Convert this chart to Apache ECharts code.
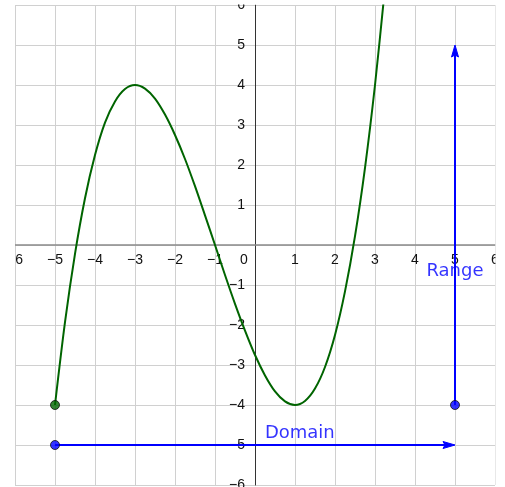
<!DOCTYPE html>
<html>
<head>
<meta charset="utf-8" />
<script src="https://cdn.jsdelivr.net/npm/echarts@6/dist/echarts.min.js"></script>
<style>
  html, body { margin: 0; padding: 0; background: #fff; }
  #chart { width: 505px; height: 487px; }
</style>
</head>
<body>
<div id="chart"></div>
<script>
// curve values
const curveX = [-5, -4.75, -4.5, -4.25, -4, -3.75, -3.5, -3.25, -3, -2.75, -2.5, -2.25, -2, -1.75, -1.5, -1.25, -1,
  -0.75, -0.5, -0.25, 0, 0.25, 0.5, 0.75, 1, 1.25, 1.5, 1.75, 2, 2.25, 2.5, 2.75, 3, 3.25];
const curveY = [-4, -1.93, -0.22, 1.17, 2.25, 3.06, 3.59, 3.9, 4, 3.91, 3.66, 3.26, 2.75, 2.15, 1.47, 0.74, 0,
  -0.75, -1.47, -2.14, -2.75, -3.26, -3.66, -3.91, -4, -3.9, -3.59, -3.05, -2.25, -1.16, 0.22, 1.93, 4, 6.44];

// end points
const curveStart = [-5, -4];
const bluePoints = [[-5, -5], [5, -4]];

// arrows: [x1, y1, x2, y2]
const arrows = [
  [-5, -5, 5, -5],
  [5, -4, 5, 5]
];

// text notes
const noteNames = ["Domain", "Range"];
const notePos = [[1.12, -4.7], [5, -0.67]];

const axisMin = -6;
const axisMax = 6;

const fmt = (v) => (v < 0 ? "\u2212" + Math.abs(v) : String(v));

const chart = echarts.init(document.getElementById("chart"), null, { renderer: "canvas" });

const option = {
  animation: false,
  backgroundColor: "#fff",
  grid: { left: 15, right: 10, top: 5, bottom: 2, containLabel: false, outerBoundsMode: "none" },
  xAxis: {
    type: "value",
    min: axisMin,
    max: axisMax,
    interval: 1,
    offset: -240, // sit on y = 0
    axisLine: { onZero: false, lineStyle: { color: "#8a8a8a", width: 1.5 } },
    axisTick: { show: false },
    splitLine: { lineStyle: { color: "#d0d0d0", width: 1 } },
    axisLabel: {
      margin: 8,
      fontSize: 14,
      fontFamily: "Liberation Sans",
      color: "#111",
      showMinLabel: true,
      showMaxLabel: true,
      hideOverlap: false,
      formatter: (v) => (v === 0 ? "{z|0}" : fmt(v)),
      rich: { z: { fontSize: 14, fontFamily: "Liberation Sans", color: "#111", padding: [0, 22, 0, 0] } }
    }
  },
  yAxis: {
    type: "value",
    min: axisMin,
    max: axisMax,
    interval: 1,
    offset: -240, // sit on x = 0
    axisLine: { onZero: false, lineStyle: { color: "#333", width: 1 } },
    axisTick: { show: false },
    splitLine: { lineStyle: { color: "#d0d0d0", width: 1 } },
    axisLabel: {
      margin: 10,
      fontSize: 14,
      fontFamily: "Liberation Sans",
      color: "#111",
      showMinLabel: true,
      showMaxLabel: true,
      hideOverlap: false,
      formatter: (v) => (v === 0 ? "" : fmt(v))
    }
  },
  series: [
    {
      type: "line",
      data: curveX.map((x, i) => [x, curveY[i]]),
      smooth: 0.3,
      showSymbol: false,
      clip: true,
      lineStyle: { color: "#006400", width: 2 },
      z: 3
    },
    {
      // blue arrows drawn through the axes' coord()
      type: "custom",
      data: arrows,
      encode: { x: [0, 2], y: [1, 3] },
      z: 4,
      renderItem: (params, api) => {
        const p1 = api.coord([api.value(0), api.value(1)]);
        const p2 = api.coord([api.value(2), api.value(3)]);
        const dx = p2[0] - p1[0];
        const dy = p2[1] - p1[1];
        const len = Math.sqrt(dx * dx + dy * dy);
        const ux = dx / len;
        const uy = dy / len;
        const headLen = 12;
        const headHalf = 3.5;
        const bx = p2[0] - ux * headLen;
        const by = p2[1] - uy * headLen;
        return {
          type: "group",
          children: [
            {
              type: "line",
              shape: { x1: p1[0], y1: p1[1], x2: bx + ux * 2, y2: by + uy * 2 },
              style: { stroke: "#0000ff", lineWidth: 2 }
            },
            {
              type: "polygon",
              shape: {
                points: [
                  [p2[0], p2[1]],
                  [bx - uy * headHalf, by + ux * headHalf],
                  [bx + ux * 2, by + uy * 2],
                  [bx + uy * headHalf, by - ux * headHalf]
                ]
              },
              style: { fill: "#0000ff", stroke: "#0000ff", lineWidth: 1 }
            }
          ]
        };
      }
    },
    {
      type: "scatter",
      data: [curveStart],
      symbolSize: 9,
      itemStyle: { color: "#006400", borderColor: "#111", borderWidth: 1 },
      z: 5
    },
    {
      type: "scatter",
      data: bluePoints,
      symbolSize: 9,
      itemStyle: { color: "#0000ff", borderColor: "#111", borderWidth: 1 },
      z: 5
    },
    {
      type: "scatter",
      data: notePos.map((p, i) => ({ value: p, name: noteNames[i] })),
      symbolSize: 0,
      silent: true,
      z: 6,
      label: {
        show: true,
        position: "inside",
        formatter: "{b}",
        color: "#0000ff",
        fontSize: 18,
        fontFamily: "DejaVu Sans"
      }
    }
  ],
  graphic: [
    // white margins so the edge labels are cut like in the picture
    { type: "rect", left: 0, top: 0, shape: { width: 15, height: 487 }, style: { fill: "#fff" }, z: 100 },
    { type: "rect", left: 495.5, top: 0, shape: { width: 10, height: 487 }, style: { fill: "#fff" }, z: 100 },
    { type: "rect", left: 0, top: 0, shape: { width: 505, height: 4.5 }, style: { fill: "#fff" }, z: 100 }
  ]
};

chart.setOption(option);
</script>
</body>
</html>
